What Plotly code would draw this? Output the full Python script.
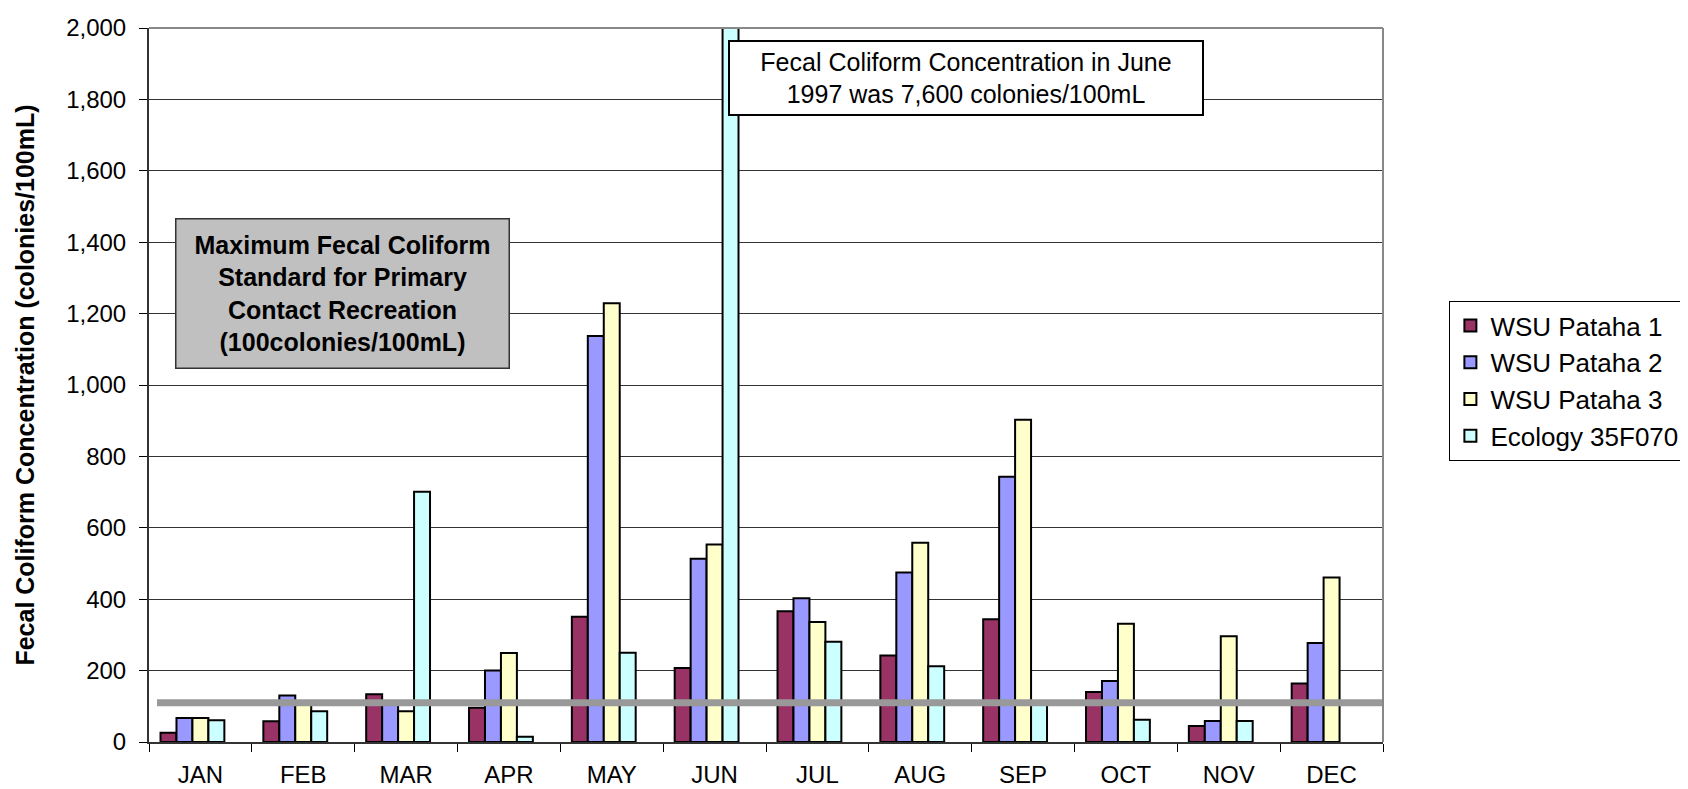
import plotly.graph_objects as go

# Monthly fecal coliform concentrations (colonies/100mL)
months = ['JAN', 'FEB', 'MAR', 'APR', 'MAY', 'JUN',
          'JUL', 'AUG', 'SEP', 'OCT', 'NOV', 'DEC']
series_names = ['WSU Pataha 1', 'WSU Pataha 2', 'WSU Pataha 3', 'Ecology 35F070']
pataha_1 = [26, 58, 134, 96, 351, 207, 366, 242, 344, 140, 45, 164]
pataha_2 = [67, 130, 105, 200, 1137, 513, 403, 475, 743, 171, 59, 277]
pataha_3 = [67, 115, 86, 249, 1229, 553, 336, 558, 903, 331, 296, 461]
ecology = [61, 86, 701, 15, 250, 7600, 281, 212, 105, 62, 59, None]
standard_line = 110

SERIES_COLORS = ['#993366', '#9999FF', '#FFFFCC', '#CCFFFF']
FONT = 'Liberation Sans, Arial, sans-serif'

# Excel-style cluster: 5 slots per category (last slot empty), gap between groups
gap = 0.224
slots = 5
bar_w = (1 - gap) / slots

fig = go.Figure()
for k, (name, vals) in enumerate(zip(series_names, [pataha_1, pataha_2, pataha_3, ecology])):
    fig.add_trace(go.Bar(
        x=months,
        y=vals,
        name=name,
        width=bar_w,
        offset=-0.5 + gap / 2 + k * bar_w,
        marker=dict(color=SERIES_COLORS[k], line=dict(color='#000000', width=2)),
        legendgroup=name,
    ))

# Primary contact recreation standard
fig.add_shape(type='line', xref='x domain', yref='y',
              x0=0.0065, x1=1, y0=standard_line, y1=standard_line,
              line=dict(color='#999999', width=7), layer='above')

# plot area border (top and right, gray)
fig.add_shape(type='line', xref='x domain', yref='y domain',
              x0=0, x1=1, y0=1, y1=1, line=dict(color='#888888', width=2))
fig.add_shape(type='line', xref='x domain', yref='y domain',
              x0=1, x1=1, y0=0, y1=1, line=dict(color='#888888', width=2))

fig.add_annotation(
    text='Maximum Fecal Coliform<br>Standard for Primary<br>Contact Recreation<br>(100colonies/100mL)',
    xref='paper', yref='paper', x=0.157, y=0.628,
    xanchor='center', yanchor='middle', showarrow=False,
    width=332, height=148, borderpad=0, borderwidth=1.5,
    bgcolor='#C0C0C0', bordercolor='#333333',
    font=dict(family=FONT, size=25, color='#000000', weight='bold'),
)

fig.add_annotation(
    text='Fecal Coliform Concentration in June<br>1997 was 7,600 colonies/100mL',
    xref='paper', yref='paper', x=0.662, y=0.9296,
    xanchor='center', yanchor='middle', showarrow=False,
    width=472, height=72, borderpad=0, borderwidth=2,
    bgcolor='#FFFFFF', bordercolor='#000000',
    font=dict(family=FONT, size=25, color='#000000'),
)

fig.update_layout(
    width=1688, height=789,
    margin=dict(l=141, r=302, t=20, b=55),
    paper_bgcolor='#FFFFFF', plot_bgcolor='#FFFFFF',
    barmode='overlay',
    font=dict(family=FONT, size=24, color='#000000'),
    showlegend=True,
    legend=dict(
        x=1.0538, y=0.6176, xanchor='left', yanchor='top',
        bordercolor='#000000', borderwidth=1,
        font=dict(family=FONT, size=26, color='#000000'),
        tracegroupgap=6, traceorder='normal',
    ),
)

fig.update_xaxes(
    type='category', tickson='boundaries', automargin=False,
    ticks='outside', ticklen=8, tickcolor='#000000',
    showline=True, linecolor='#333333', linewidth=2,
    showgrid=False, ticklabelstandoff=10,
    tickfont=dict(family=FONT, size=24),
)
fig.update_yaxes(
    range=[0, 2000], dtick=200, tickformat=',', automargin=False,
    ticks='outside', ticklen=8, tickcolor='#000000',
    showline=True, linecolor='#333333', linewidth=2,
    showgrid=True, gridcolor='#333333', gridwidth=1,
    zeroline=False, ticklabelstandoff=8,
    tickfont=dict(family=FONT, size=24),
    title=dict(text='Fecal Coliform Concentration (colonies/100mL)',
               font=dict(family=FONT, size=25, weight='bold'), standoff=24),
)

fig.write_html('out.html')
